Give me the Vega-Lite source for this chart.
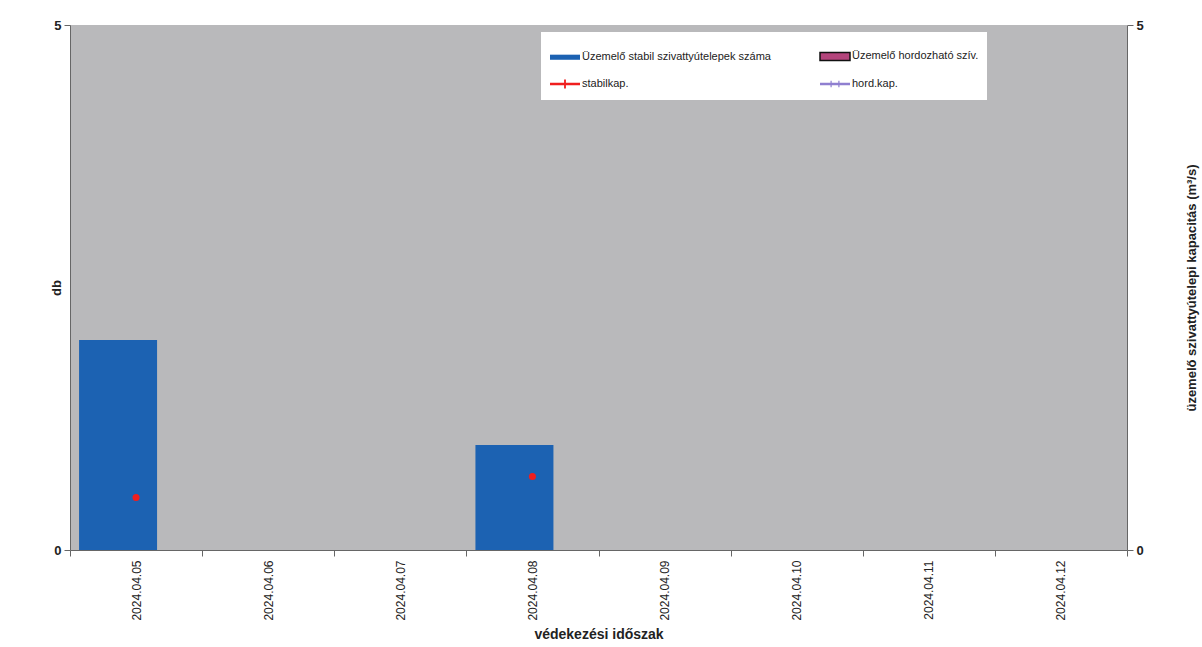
{
  "$schema": "https://vega.github.io/schema/vega-lite/v6.json",
  "width": 1057,
  "height": 525,
  "autosize": "none",
  "padding": {"left": 70, "top": 25, "right": 75, "bottom": 97},
  "background": "white",
  "config": {
    "font": "Liberation Sans",
    "view": {"fill": "#b9b9bb", "stroke": null},
    "axis": {"grid": false, "domainColor": "#666666", "tickColor": "#666666", "labelColor": "#222222", "titleColor": "#222222", "labelFont": "Liberation Sans", "titleFont": "Liberation Sans"},
    "legend": {
      "orient": "none", "legendX": 471, "legendY": 7, "columns": 2, "fillColor": "white",
      "padding": 8, "rowPadding": 4, "columnPadding": 46, "symbolSize": 900,
      "labelFontSize": 11, "labelColor": "#222222", "labelFont": "Liberation Sans", "labelOffset": 1, "labelLimit": 300
    }
  },
  "data": {
    "values": [
      {"date": "2024.04.05", "series": "Üzemelő stabil szivattyútelepek száma", "kind": "bar", "value": 2},
      {"date": "2024.04.06", "series": "Üzemelő stabil szivattyútelepek száma", "kind": "bar", "value": 0},
      {"date": "2024.04.07", "series": "Üzemelő stabil szivattyútelepek száma", "kind": "bar", "value": 0},
      {"date": "2024.04.08", "series": "Üzemelő stabil szivattyútelepek száma", "kind": "bar", "value": 1},
      {"date": "2024.04.09", "series": "Üzemelő stabil szivattyútelepek száma", "kind": "bar", "value": 0},
      {"date": "2024.04.10", "series": "Üzemelő stabil szivattyútelepek száma", "kind": "bar", "value": 0},
      {"date": "2024.04.11", "series": "Üzemelő stabil szivattyútelepek száma", "kind": "bar", "value": 0},
      {"date": "2024.04.12", "series": "Üzemelő stabil szivattyútelepek száma", "kind": "bar", "value": 0},
      {"date": "2024.04.05", "series": "stabilkap.", "kind": "point", "value": 0.5},
      {"date": "2024.04.08", "series": "stabilkap.", "kind": "point", "value": 0.7}
    ]
  },
  "layer": [
    {
      "transform": [{"filter": "datum.kind === 'bar'"}],
      "mark": {"type": "bar", "width": 78, "xOffset": -18},
      "encoding": {
        "x": {
          "field": "date", "type": "ordinal",
          "scale": {"paddingInner": 0, "paddingOuter": 0},
          "axis": {"title": "védekezési időszak", "titleFontSize": 14, "titleFontWeight": "bold", "titlePadding": 7,
                   "labelAngle": -90, "labelFontSize": 12, "labelPadding": 4, "tickBand": "extent", "tickSize": 6}
        },
        "y": {
          "field": "value", "type": "quantitative",
          "scale": {"domain": [0, 5], "nice": false},
          "axis": {"title": "db", "values": [0, 5], "titleFontSize": 13, "titleFontWeight": "bold", "titlePadding": -10,
                   "labelFontSize": 13, "labelFontWeight": "bold", "tickSize": 6, "labelPadding": 3}
        },
        "color": {
          "field": "series", "type": "nominal",
          "scale": {
            "domain": ["Üzemelő stabil szivattyútelepek száma", "stabilkap.", "Üzemelő hordozható szív.", "hord.kap."],
            "range": ["#1c62b2", "#f01e1e", "#b4457c", "#8f7fd0"]
          },
          "legend": {
            "title": null,
            "encode": {
              "symbols": {
                "update": {
                  "shape": [
                    {"test": "datum.value === 'Üzemelő stabil szivattyútelepek száma'", "value": "M-1,-0.17H1V0.17H-1Z"},
                    {"test": "datum.value === 'Üzemelő hordozható szív.'", "value": "M-1,-0.27H1V0.27H-1Z"},
                    {"test": "datum.value === 'stabilkap.'", "value": "M-1,-0.08H1V0.08H-1Z M-0.06,-0.3H0.06V0.3H-0.06Z"},
                    {"value": "M-1,-0.08H1V0.08H-1Z M-0.3,-0.22H-0.22V0.22H-0.3Z M0.22,-0.22H0.3V0.22H0.22Z"}
                  ],
                  "stroke": [
                    {"test": "datum.value === 'Üzemelő hordozható szív.'", "value": "#111111"},
                    {"value": "transparent"}
                  ],
                  "strokeWidth": {"value": 1.5},
                  "opacity": {"value": 1}
                }
              }
            }
          }
        }
      }
    },
    {
      "transform": [{"filter": "datum.kind === 'point'"}],
      "mark": {"type": "point", "filled": true, "shape": "circle", "size": 50, "opacity": 1},
      "encoding": {
        "x": {"field": "date", "type": "ordinal"},
        "y": {
          "field": "value", "type": "quantitative",
          "scale": {"domain": [0, 5], "nice": false},
          "axis": {"orient": "right", "title": "üzemelő szivattyútelepi kapacitás (m³/s)", "values": [0, 5],
                   "titleAngle": 270, "titleFontSize": 13, "titleFontWeight": "bold", "titlePadding": 55,
                   "labelFontSize": 13, "labelFontWeight": "bold", "tickSize": 6, "labelPadding": 3}
        },
        "color": {"field": "series", "type": "nominal"}
      }
    }
  ],
  "resolve": {"scale": {"y": "independent"}}
}
